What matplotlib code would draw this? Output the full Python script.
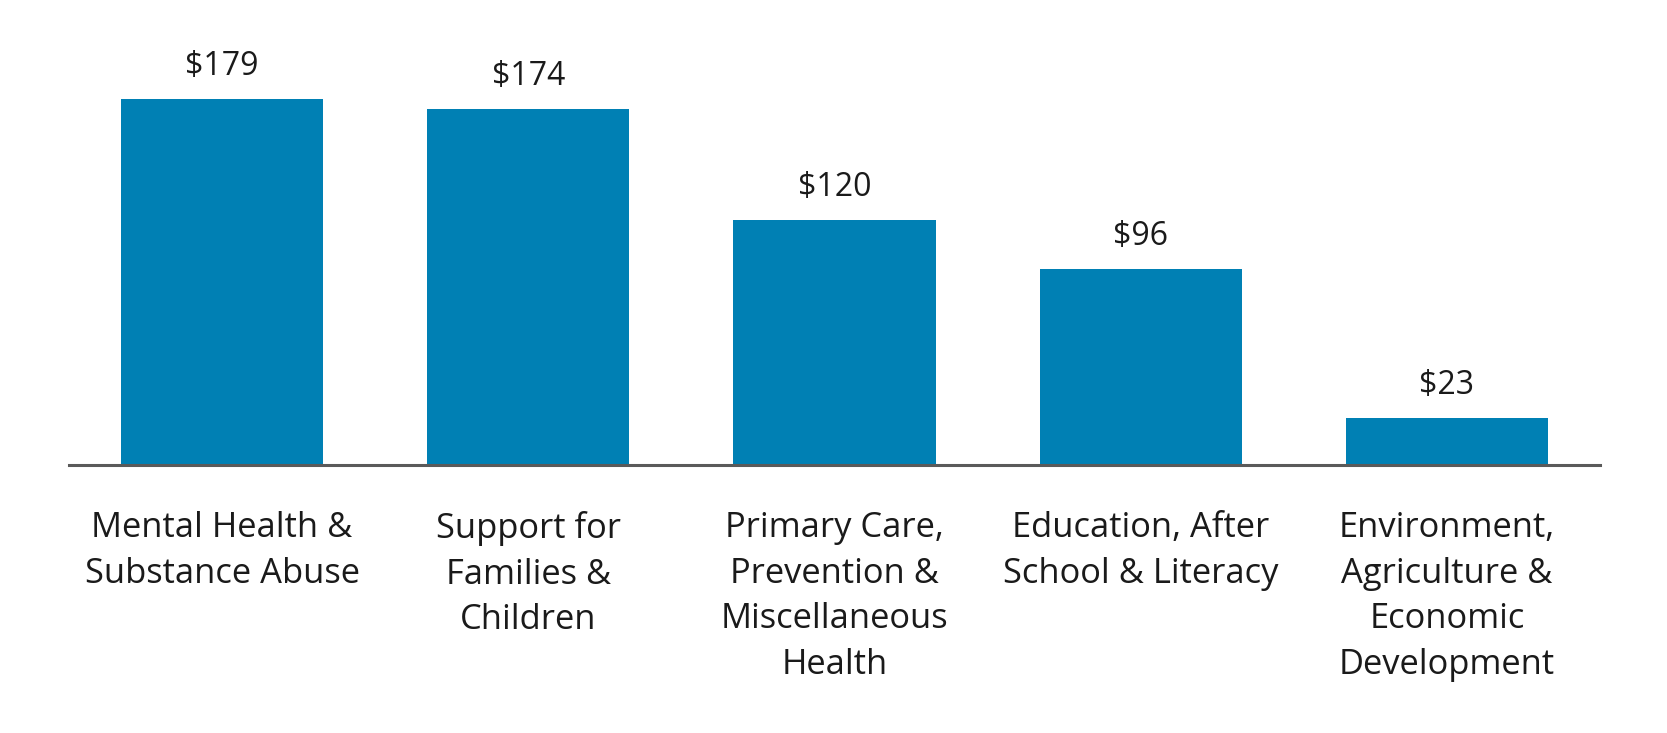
import matplotlib.pyplot as plt

# Data
categories = [
    "Mental Health &\nSubstance Abuse",
    "Support for\nFamilies &\nChildren",
    "Primary Care,\nPrevention &\nMiscellaneous\nHealth",
    "Education, After\nSchool & Literacy",
    "Environment,\nAgriculture &\nEconomic\nDevelopment",
]
values = [179, 174, 120, 96, 23]
value_labels = ["$179", "$174", "$120", "$96", "$23"]

bar_color = "#0080B4"
plt.rcParams['font.family'] = ['Open Sans', 'DejaVu Sans']

fig = plt.figure(figsize=(16.67, 7.33), dpi=100)
# axes box in pixels: left 69, right 1600, baseline at y=465, top at y=20
ax = fig.add_axes([69 / 1667, (733 - 465) / 733, (1600 - 69) / 1667, (465 - 20) / 733])

x = list(range(len(values)))
bars = ax.bar(x, values, width=0.66, color=bar_color)

# Value labels above bars
for bar, lab in zip(bars, value_labels):
    ax.annotate(lab, (bar.get_x() + bar.get_width() / 2, bar.get_height()),
                xytext=(0, 11.5), textcoords="offset points",
                ha="center", va="bottom", fontsize=23, color="#1a1a1a")

ax.set_xlim(-0.5, 4.5)
ax.set_ylim(0, 217.6)
ax.set_xticks(x)
ax.set_xticklabels(categories, fontsize=24.8, color="#1a1a1a", linespacing=1.45)
ax.tick_params(axis="x", length=0, pad=33)
ax.set_yticks([])

for side in ["top", "right", "left"]:
    ax.spines[side].set_visible(False)
ax.spines["bottom"].set_color("#5a5a5a")
ax.spines["bottom"].set_linewidth(2.2)

plt.savefig("out.png", dpi=100)
